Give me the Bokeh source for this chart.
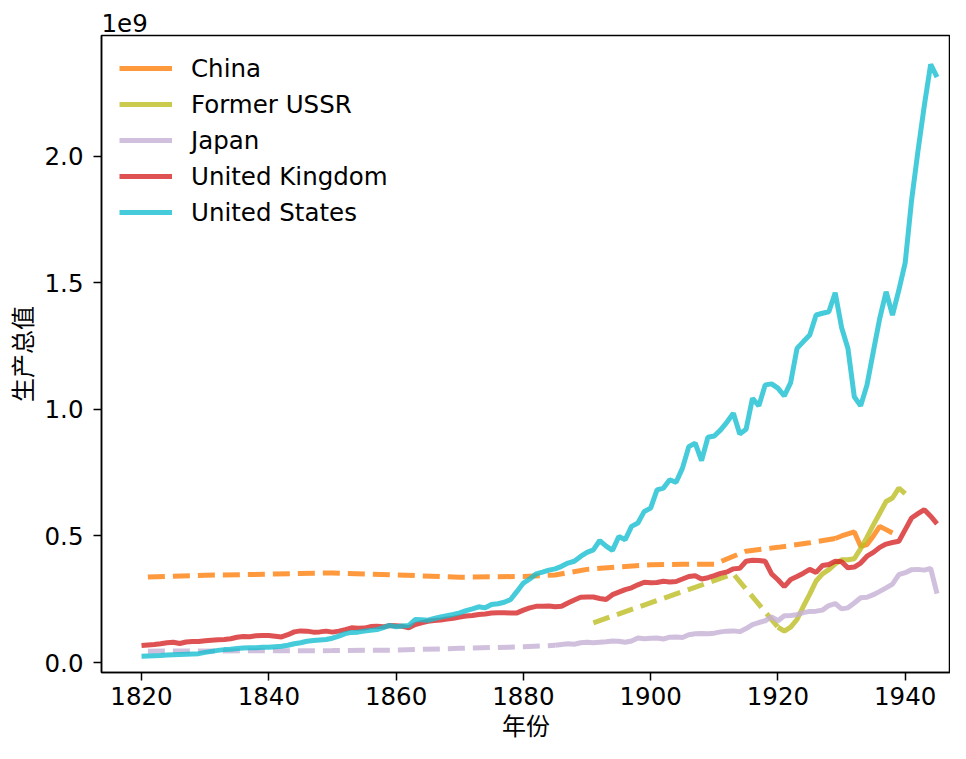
import numpy as np
from bokeh.plotting import figure
from bokeh.models import Range1d, Legend, LegendItem, CustomJSTickFormatter, FixedTicker
from bokeh.embed import file_html
from bokeh.resources import INLINE

# ---------------- data (values in units of 1e9) ----------------
years_full = list(range(1820, 1946))

uk_vals = [
    0.067, 0.069, 0.071, 0.074, 0.078, 0.080, 0.075, 0.081, 0.083, 0.083,
    0.086, 0.088, 0.090, 0.091, 0.094, 0.100, 0.103, 0.102, 0.106, 0.107,
    0.107, 0.104, 0.101, 0.110, 0.121, 0.125, 0.124, 0.120, 0.121, 0.124,
    0.120, 0.124, 0.130, 0.137, 0.135, 0.136, 0.142, 0.143, 0.141, 0.146,
    0.145, 0.143, 0.137, 0.150, 0.157, 0.163, 0.166, 0.168, 0.172, 0.175,
    0.180, 0.184, 0.186, 0.190, 0.192, 0.196, 0.197, 0.197, 0.196, 0.196,
    0.207, 0.216, 0.222, 0.222, 0.223, 0.220, 0.222, 0.235, 0.247, 0.258,
    0.259, 0.259, 0.253, 0.249, 0.268, 0.278, 0.288, 0.295, 0.307, 0.317,
    0.315, 0.316, 0.321, 0.318, 0.320, 0.330, 0.340, 0.343, 0.330, 0.335,
    0.343, 0.352, 0.358, 0.370, 0.372, 0.400, 0.404, 0.403, 0.400, 0.350,
    0.327, 0.300, 0.328, 0.340, 0.353, 0.368, 0.356, 0.383, 0.387, 0.400,
    0.398, 0.374, 0.377, 0.393, 0.420, 0.435, 0.455, 0.468, 0.474, 0.479,
    0.525, 0.571, 0.588, 0.604, 0.578, 0.548,
]

us_vals = [
    0.025, 0.026, 0.027, 0.028, 0.030, 0.031, 0.032, 0.033, 0.034, 0.035,
    0.040, 0.044, 0.048, 0.051, 0.052, 0.055, 0.057, 0.058, 0.058, 0.060,
    0.060, 0.062, 0.064, 0.068, 0.074, 0.078, 0.084, 0.087, 0.089, 0.091,
    0.096, 0.104, 0.114, 0.119, 0.120, 0.124, 0.127, 0.130, 0.138, 0.147,
    0.141, 0.144, 0.146, 0.170, 0.169, 0.167, 0.174, 0.180, 0.185, 0.190,
    0.196, 0.205, 0.212, 0.220, 0.216, 0.229, 0.232, 0.238, 0.249, 0.281,
    0.314, 0.330, 0.350, 0.357, 0.365, 0.370, 0.380, 0.393, 0.400, 0.419,
    0.435, 0.445, 0.482, 0.460, 0.443, 0.498, 0.485, 0.538, 0.551, 0.597,
    0.610, 0.682, 0.689, 0.722, 0.712, 0.768, 0.853, 0.867, 0.798, 0.890,
    0.895, 0.919, 0.950, 0.985, 0.903, 0.922, 1.044, 1.014, 1.097, 1.101,
    1.084, 1.053, 1.106, 1.241, 1.268, 1.294, 1.373, 1.380, 1.386, 1.461,
    1.324, 1.241, 1.050, 1.014, 1.097, 1.230, 1.360, 1.465, 1.373, 1.471,
    1.580, 1.826, 2.020, 2.200, 2.363, 2.313,
]

japan_years = list(range(1885, 1946))
japan_vals = [
    0.068, 0.071, 0.074, 0.072, 0.078, 0.080, 0.078, 0.080, 0.082, 0.085,
    0.084, 0.080, 0.085, 0.097, 0.094, 0.096, 0.097, 0.093, 0.100, 0.101,
    0.099, 0.110, 0.114, 0.115, 0.114, 0.116, 0.121, 0.124, 0.125, 0.122,
    0.134, 0.150, 0.158, 0.165, 0.180, 0.165, 0.185, 0.186, 0.189, 0.197,
    0.202, 0.203, 0.207, 0.225, 0.233, 0.212, 0.216, 0.235, 0.256, 0.258,
    0.268, 0.281, 0.295, 0.310, 0.347, 0.355, 0.367, 0.368, 0.365, 0.372, 0.272,
]
japan_est_years = [1821, 1850, 1860, 1870, 1880, 1885]
japan_est_vals = [0.045, 0.047, 0.049, 0.056, 0.062, 0.068]

china_years = list(range(1929, 1939))
china_vals = [0.490, 0.500, 0.508, 0.516, 0.459, 0.466, 0.500, 0.538, 0.525, 0.512]
china_est_years = [1821, 1830, 1840, 1850, 1860, 1870, 1880, 1885, 1890, 1895,
                   1900, 1905, 1910, 1913, 1915, 1920, 1925, 1929]
china_est_vals = [0.338, 0.345, 0.349, 0.354, 0.346, 0.337, 0.340, 0.346, 0.368, 0.378,
                  0.386, 0.388, 0.388, 0.420, 0.440, 0.455, 0.473, 0.490]

ussr_years = list(range(1920, 1941))
ussr_vals = [0.140, 0.124, 0.140, 0.170, 0.222, 0.270, 0.322, 0.350, 0.367, 0.390,
             0.406, 0.406, 0.410, 0.450, 0.495, 0.544, 0.590, 0.636, 0.650, 0.689, 0.667]
ussr_est_years = [1891, 1913, 1920]
ussr_est_vals = [0.157, 0.350, 0.140]

x_ticks = [1820, 1840, 1860, 1880, 1900, 1920, 1940]
y_ticks = [0.0, 0.5, 1.0, 1.5, 2.0]

SCALE = 1e9
colors = {
    "China": "#ff7f0e",
    "Former USSR": "#bcbd22",
    "Japan": "#c5b0d5",
    "United Kingdom": "#d62728",
    "United States": "#17becf",
}

# ---------------- figure ----------------
FONT = "DejaVu Sans"
LABEL_FONT = "'DejaVu Sans', 'Noto Sans CJK SC'"
FS = "24.5px"
W, H = 950, 743
B_LEFT, B_RIGHT, B_TOP, B_BOTTOM = 101, 0, 35, 70
FRAME_W = W - B_LEFT - B_RIGHT
FRAME_H = H - B_TOP - B_BOTTOM
PX_PER_UNIT = 253.5          # pixels per 1e9
ZERO_FROM_TOP = 628          # pixels from frame top down to the zero line
Y_END = ZERO_FROM_TOP / PX_PER_UNIT
Y_START = -(FRAME_H - ZERO_FROM_TOP) / PX_PER_UNIT

p = figure(width=W, height=H, output_backend="svg", toolbar_location=None,
           x_range=Range1d(1813.71, 1813.71 + FRAME_W / 6.364),
           y_range=Range1d(Y_START * SCALE, Y_END * SCALE),
           min_border_left=B_LEFT, min_border_right=B_RIGHT,
           min_border_top=B_TOP, min_border_bottom=B_BOTTOM)
p.xgrid.visible = False
p.ygrid.visible = False
p.outline_line_color = "black"
p.outline_line_width = 1.5
p.background_fill_color = "white"
p.border_fill_color = "white"

# offset text of the y axis ("1e9"), shown as a left-aligned title
p.title.text = "1e9"
p.title.align = "left"
p.title.offset = 0
p.title.standoff = 8
p.title.text_font = FONT
p.title.text_font_size = FS
p.title.text_font_style = "normal"
p.title.text_color = "black"

LW = 5
DASH = "17 8"
ALPHA = 0.8

def arr(v):
    return np.array(v) * SCALE

renderers = {}
p.line(china_est_years, arr(china_est_vals), line_color=colors["China"], line_alpha=ALPHA,
       line_width=LW, line_dash=DASH)
renderers["China"] = p.line(china_years, arr(china_vals), line_color=colors["China"],
                            line_alpha=ALPHA, line_width=LW)
p.line(ussr_est_years, arr(ussr_est_vals), line_color=colors["Former USSR"], line_alpha=ALPHA,
       line_width=LW, line_dash=DASH)
renderers["Former USSR"] = p.line(ussr_years, arr(ussr_vals), line_color=colors["Former USSR"],
                                  line_alpha=ALPHA, line_width=LW)
p.line(japan_est_years, arr(japan_est_vals), line_color=colors["Japan"], line_alpha=ALPHA,
       line_width=LW, line_dash=DASH)
renderers["Japan"] = p.line(japan_years, arr(japan_vals), line_color=colors["Japan"],
                            line_alpha=ALPHA, line_width=LW)
renderers["United Kingdom"] = p.line(years_full, arr(uk_vals), line_color=colors["United Kingdom"],
                                     line_alpha=ALPHA, line_width=LW)
renderers["United States"] = p.line(years_full, arr(us_vals), line_color=colors["United States"],
                                    line_alpha=ALPHA, line_width=LW)

legend = Legend(items=[LegendItem(label=k, renderers=[renderers[k]]) for k in colors],
                location="top_left", border_line_color=None, background_fill_alpha=0,
                label_text_font_size=FS, label_text_font=FONT, label_text_color="black",
                glyph_width=53, glyph_height=30, label_height=30, spacing=6,
                padding=0, margin=18, label_standoff=19)
p.add_layout(legend)

# axes
p.xaxis.ticker = FixedTicker(ticks=x_ticks)
p.yaxis.ticker = FixedTicker(ticks=[t * SCALE for t in y_ticks])
p.yaxis.formatter = CustomJSTickFormatter(code="return (tick/1e9).toFixed(1);")
for ax in (p.xaxis[0], p.yaxis[0]):
    ax.major_tick_in = 0
    ax.major_tick_out = 8
    ax.major_tick_line_width = 1.5
    ax.minor_tick_line_color = None
    ax.axis_line_width = 1.5
    ax.axis_line_color = "black"
    ax.major_label_text_font = FONT
    ax.major_label_text_font_size = FS
    ax.major_label_text_color = "black"
    ax.axis_label_text_font = LABEL_FONT
    ax.axis_label_text_font_size = "24px"
    ax.axis_label_text_font_style = "normal"
    ax.axis_label_text_color = "black"
p.xaxis.axis_label = "年份"
p.yaxis.axis_label = "生产总值"
p.xaxis.major_label_standoff = 6
p.xaxis.axis_label_standoff = 5
p.yaxis.major_label_standoff = 10
p.yaxis.axis_label_standoff = 4

open("out.html", "w").write(file_html(p, INLINE))
